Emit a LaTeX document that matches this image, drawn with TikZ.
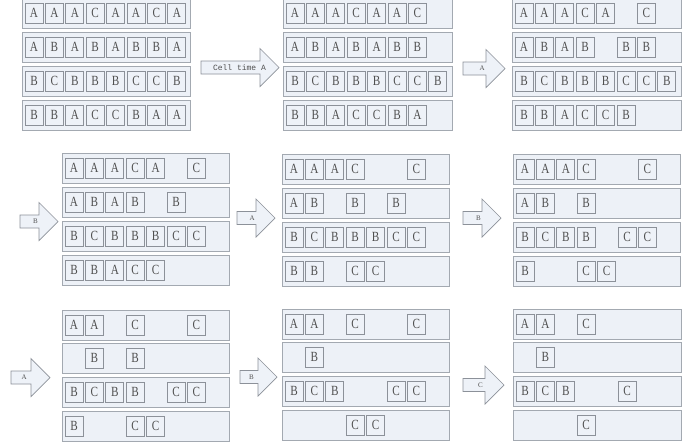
\documentclass[tikz,border=0pt]{standalone}
\usepackage{fontspec}
\setmainfont{Liberation Serif}
\newfontfamily\cellfont[FakeStretch=0.8]{Liberation Serif}
\newfontfamily\monofont{Liberation Mono}
\definecolor{rowfill}{HTML}{EDF1F7}
\definecolor{rowdraw}{HTML}{A3A9B1}
\definecolor{celldraw}{HTML}{8C9199}
\definecolor{cellfill}{HTML}{EEF2F8}
\definecolor{txt}{HTML}{505050}
\tikzset{
  rowbox/.style={draw=rowdraw,fill=rowfill,line width=0.8pt},
  cellbox/.style={draw=celldraw,fill=cellfill,line width=0.7pt,minimum width=18pt,minimum height=20pt,inner sep=0pt,text=txt,font=\cellfont\fontsize{14}{14}\selectfont},
  arrowshape/.style={draw=celldraw,fill=cellfill,line width=0.7pt,line join=miter},
  arrowlabel/.style={inner sep=0pt,text=txt,font=\fontsize{7}{7}\selectfont},
}
% #1 name, #2 left x, #3 tip x, #4 centre y
\newcommand\blockarrow[4]{%
  \draw[arrowshape] (#2,#4-6.5) -- (#3-19,#4-6.5) -- (#3-19,#4-19) -- (#3,#4)
     -- (#3-19,#4+19) -- (#3-19,#4+6.5) -- (#2,#4+6.5) -- cycle;
  \coordinate (#1) at (#3-19,#4);
}
% #1 panel name, #2 left, #3 width, #4 row top, #5 row index, #6 list pos/letter
\newcommand\cellrow[6]{%
  \draw[rowbox] (#2,#4) rectangle (#2+#3,#4+30);
  \foreach \p/\l in {#6}{
    \node[cellbox,name=#1r#5c\p] at (#2+12+\p*20.4,#4+15) {\l};
  }
}
\begin{document}
\begin{tikzpicture}[x=1pt,y=-1pt]
\useasboundingbox (0,0) rectangle (694,445);
\fill[white] (0,0) rectangle (694,445);
% ---- top row ----
\cellrow{pa}{22}{168}{-2}{1}{0/A,1/A,2/A,3/C,4/A,5/A,6/C,7/A}
\cellrow{pa}{22}{168}{32}{2}{0/A,1/B,2/A,3/B,4/A,5/B,6/B,7/A}
\cellrow{pa}{22}{168}{66}{3}{0/B,1/C,2/B,3/B,4/B,5/C,6/C,7/B}
\cellrow{pa}{22}{168}{100}{4}{0/B,1/B,2/A,3/C,4/C,5/B,6/A,7/A}
\cellrow{pb}{283}{169}{-2}{1}{0/A,1/A,2/A,3/C,4/A,5/A,6/C}
\cellrow{pb}{283}{169}{32}{2}{0/A,1/B,2/A,3/B,4/A,5/B,6/B}
\cellrow{pb}{283}{169}{66}{3}{0/B,1/C,2/B,3/B,4/B,5/C,6/C,7/B}
\cellrow{pb}{283}{169}{100}{4}{0/B,1/B,2/A,3/C,4/C,5/B,6/A}
\cellrow{pc}{512}{169}{-2}{1}{0/A,1/A,2/A,3/C,4/A,6/C}
\cellrow{pc}{512}{169}{32}{2}{0/A,1/B,2/A,3/B,5/B,6/B}
\cellrow{pc}{512}{169}{66}{3}{0/B,1/C,2/B,3/B,4/B,5/C,6/C,7/B}
\cellrow{pc}{512}{169}{100}{4}{0/B,1/B,2/A,3/C,4/C,5/B}
% ---- middle row ----
\cellrow{pd}{62}{167}{153}{1}{0/A,1/A,2/A,3/C,4/A,6/C}
\cellrow{pd}{62}{167}{187}{2}{0/A,1/B,2/A,3/B,5/B}
\cellrow{pd}{62}{167}{221}{3}{0/B,1/C,2/B,3/B,4/B,5/C,6/C}
\cellrow{pd}{62}{167}{255}{4}{0/B,1/B,2/A,3/C,4/C}
\cellrow{pe}{282}{167}{154}{1}{0/A,1/A,2/A,3/C,6/C}
\cellrow{pe}{282}{167}{188}{2}{0/A,1/B,3/B,5/B}
\cellrow{pe}{282}{167}{222}{3}{0/B,1/C,2/B,3/B,4/B,5/C,6/C}
\cellrow{pe}{282}{167}{256}{4}{0/B,1/B,3/C,4/C}
\cellrow{pf}{513}{167}{154}{1}{0/A,1/A,2/A,3/C,6/C}
\cellrow{pf}{513}{167}{188}{2}{0/A,1/B,3/B}
\cellrow{pf}{513}{167}{222}{3}{0/B,1/C,2/B,3/B,5/C,6/C}
\cellrow{pf}{513}{167}{256}{4}{0/B,3/C,4/C}
% ---- bottom row ----
\cellrow{pg}{62}{167}{310}{1}{0/A,1/A,3/C,6/C}
\cellrow{pg}{62}{167}{343}{2}{1/B,3/B}
\cellrow{pg}{62}{167}{377}{3}{0/B,1/C,2/B,3/B,5/C,6/C}
\cellrow{pg}{62}{167}{411}{4}{0/B,3/C,4/C}
\cellrow{ph}{282}{167}{309}{1}{0/A,1/A,3/C,6/C}
\cellrow{ph}{282}{167}{342}{2}{1/B}
\cellrow{ph}{282}{167}{376}{3}{0/B,1/C,2/B,5/C,6/C}
\cellrow{ph}{282}{167}{410}{4}{3/C,4/C}
\cellrow{pi}{513}{168}{309}{1}{0/A,1/A,3/C}
\cellrow{pi}{513}{168}{342}{2}{1/B}
\cellrow{pi}{513}{168}{376}{3}{0/B,1/C,2/B,5/C}
\cellrow{pi}{513}{168}{410}{4}{3/C}
% ---- arrows ----
\blockarrow{ar1}{201}{279}{67.5}
\node[inner sep=0pt,text=txt,font=\monofont\fontsize{8}{8}\selectfont] (lab1) at (239.5,67.5) {Cell time A};
\blockarrow{ar2}{463}{505}{68.5}
\node[arrowlabel,anchor=east] (lab2) at ([xshift=-1pt]ar2) {A};
\blockarrow{ar3}{20}{58}{221.5}
\node[arrowlabel,anchor=east] (lab3) at ([xshift=-1pt]ar3) {B};
\blockarrow{ar4}{237}{275}{218}
\node[arrowlabel,anchor=east] (lab4) at ([xshift=-1pt]ar4) {A};
\blockarrow{ar5}{463}{501}{218}
\node[arrowlabel,anchor=east] (lab5) at ([xshift=-1pt]ar5) {B};
\blockarrow{ar6}{11}{50}{377.5}
\node[arrowlabel,anchor=east] (lab6) at ([xshift=-4pt]ar6) {A};
\blockarrow{ar7}{240}{277}{377}
\node[arrowlabel,anchor=east] (lab7) at ([xshift=-4pt]ar7) {B};
\blockarrow{ar8}{463}{504}{385}
\node[arrowlabel,anchor=east] (lab8) at ([xshift=-2pt]ar8) {C};
\end{tikzpicture}
\end{document}
